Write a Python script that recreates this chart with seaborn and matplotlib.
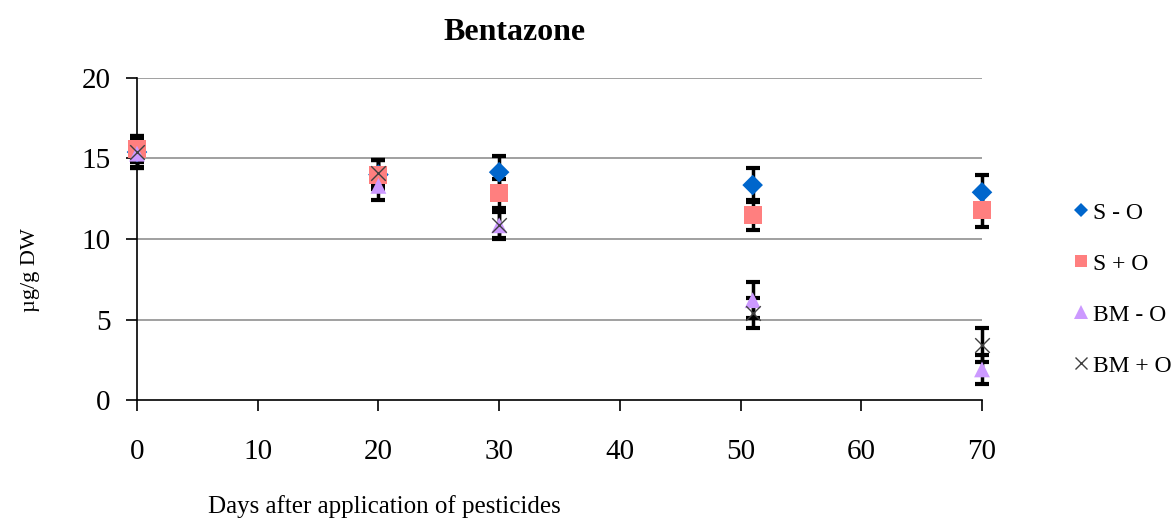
import matplotlib
matplotlib.use("Agg")
import matplotlib.pyplot as plt
import seaborn as sns
import pandas as pd
from matplotlib.lines import Line2D

days = [0, 20, 30, 51, 70]
series = ["S - O", "S + O", "BM - O", "BM + O"]
s_minus_o = [15.4, 14.0, 14.15, 13.35, 12.9]
s_plus_o = [15.6, 14.0, 12.85, 11.5, 11.8]
bm_minus_o = [15.3, 13.3, 10.85, 6.2, 1.9]
bm_plus_o = [15.4, 14.1, 10.9, 5.4, 3.4]
err_s_minus_o = [1.0, 0.9, 1.0, 1.05, 1.1]
err_s_plus_o = [0.8, 0.9, 0.9, 0.95, 1.05]
err_bm_minus_o = [0.9, 0.9, 0.85, 1.1, 0.9]
err_bm_plus_o = [0.9, 0.8, 0.85, 0.95, 1.05]

values = [s_minus_o, s_plus_o, bm_minus_o, bm_plus_o]
errors = [err_s_minus_o, err_s_plus_o, err_bm_minus_o, err_bm_plus_o]

rows = []
for name, vals, errs in zip(series, values, errors):
    for d, v, e in zip(days, vals, errs):
        rows.append({"day": d, "value": v, "err": e, "series": name})
df = pd.DataFrame(rows)

palette = {"S - O": "#0066CC", "S + O": "#FF7F7F", "BM - O": "#CC99FF", "BM + O": "#404040"}
markers = {"S - O": "D", "S + O": "s", "BM - O": "^", "BM + O": "x"}
sizes = {"S - O": 110, "S + O": 170, "BM - O": 130, "BM + O": 110}

sns.set_theme(style="white")
plt.rcParams["font.family"] = ["Liberation Serif", "DejaVu Serif"]
plt.rcParams["text.color"] = "black"
plt.rcParams["axes.labelcolor"] = "black"

fig = plt.figure(figsize=(11.72, 5.19), dpi=100)
ax = fig.add_axes([137 / 1172, 1 - 400 / 519, (982 - 137) / 1172, (400 - 78) / 519])

for name in series:
    sub = df[df["series"] == name]
    _, caps, bars = ax.errorbar(sub["day"], sub["value"], yerr=sub["err"], fmt="none",
                                ecolor="black", elinewidth=2.5, capsize=5, capthick=3, zorder=2)
    for c in caps:
        c.set_clip_on(False)
    for b in bars:
        b.set_clip_on(False)

for name in series:
    sub = df[df["series"] == name]
    if name == "BM + O":
        coll = ax.scatter(sub["day"], sub["value"], marker="x", s=sizes[name],
                          color=palette[name], linewidths=1.0, zorder=3)
        coll.set_clip_on(False)
    else:
        sns.scatterplot(data=sub, x="day", y="value", marker=markers[name],
                        color=palette[name], s=sizes[name], edgecolor="none",
                        ax=ax, zorder=3, legend=False, clip_on=False)

ax.set_xlim(0, 70)
ax.set_ylim(0, 20)
ax.set_xticks(range(0, 71, 10))
ax.set_yticks(range(0, 21, 5))
ax.set_xlabel("")
ax.set_ylabel("")
for y in [5, 10, 15, 20]:
    ax.axhline(y, color="#A0A0A0", linewidth=1.4, zorder=1)
for s in ["top", "right"]:
    ax.spines[s].set_visible(False)
for s in ["left", "bottom"]:
    ax.spines[s].set_color("black")
    ax.spines[s].set_linewidth(1.2)
ax.tick_params(axis="both", direction="out", length=8, width=1.2, colors="black",
               labelsize=21, bottom=True, left=True)
ax.tick_params(axis="x", pad=20)
ax.tick_params(axis="y", pad=11)

fig.text(515 / 1172, 1 - 32 / 519, "Bentazone", ha="center", va="center",
         fontsize=23, fontweight="bold")
fig.text(30 / 1172, 1 - 270 / 519, "µg/g DW", rotation=90, ha="center", va="center",
         fontsize=16)
fig.text(384 / 1172, 1 - 507 / 519, "Days after application of pesticides",
         ha="center", va="center", fontsize=18)

handles = [
    Line2D([], [], linestyle="none", marker="D", color="#0066CC", markersize=7, markeredgewidth=0),
    Line2D([], [], linestyle="none", marker="s", color="#FF7F7F", markersize=9, markeredgewidth=0),
    Line2D([], [], linestyle="none", marker="^", color="#CC99FF", markersize=10, markeredgewidth=0),
    Line2D([], [], linestyle="none", marker="x", color="#404040", markersize=8, markeredgewidth=1.0),
]
fig.legend(handles, series, loc="upper left", bbox_to_anchor=(1072 / 1172, 1 - 202 / 519),
           frameon=False, fontsize=17, handlelength=0.8, handletextpad=0.1,
           labelspacing=1.25, borderpad=0, borderaxespad=0)

fig.savefig("out.png", dpi=100)
